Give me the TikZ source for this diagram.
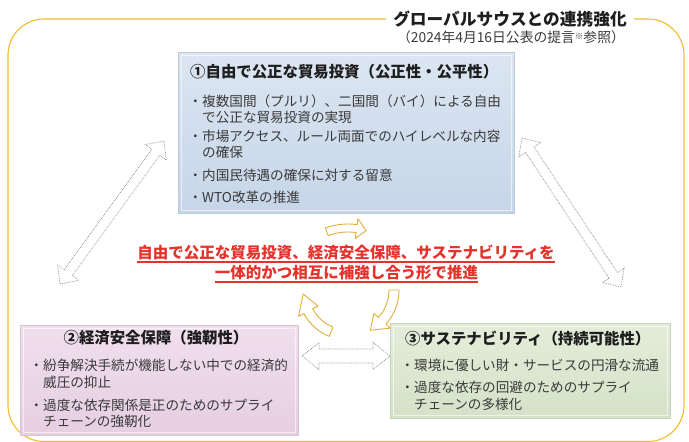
\documentclass[tikz,border=0pt]{standalone}
\usepackage{fontspec}
\setmainfont{Noto Sans CJK JP}
\usetikzlibrary{calc}
\definecolor{framegold}{HTML}{F3BC2E}
\definecolor{arrowgold}{HTML}{E2AE3A}
\definecolor{redtxt}{HTML}{E5322B}
\definecolor{bodytxt}{HTML}{3A3A3A}
\definecolor{titletxt}{HTML}{1E1E1E}
\definecolor{arrowgray}{HTML}{85858E}
\definecolor{bluetop}{HTML}{DCE6F2}
\definecolor{bluebot}{HTML}{C6D5E8}
\definecolor{pinktop}{HTML}{F0DFED}
\definecolor{pinkbot}{HTML}{E6CEE3}
\definecolor{greentop}{HTML}{E4EDDA}
\definecolor{greenbot}{HTML}{D4E2C8}
\tikzset{
  bodyline/.style={anchor=base west, inner sep=0pt, font=\fontsize{13.6}{16}\selectfont, text=bodytxt},
  boxtitle/.style={anchor=base west, inner sep=0pt, font=\fontsize{15.4}{18}\selectfont\bfseries, text=titletxt},
  redtext/.style={anchor=base, inner sep=0pt, font=\fontsize{15.5}{18}\selectfont\bfseries, text=redtxt},
  panel/.style={anchor=north west, inner sep=0pt, draw=#1, line width=0.6pt},
  bevel/.style={draw=white, opacity=0.6, line width=0.8pt},
  yarrow/.style={draw=arrowgold, fill=white, line width=0.9pt, line join=round},
  garrow/.style={draw=arrowgray, fill=white, densely dotted, line width=0.7pt, line join=miter},
  ruleline/.style={draw=redtxt, line width=1.3pt},
}
% double block arrow: #1 A, #2 B, #3 head length, #4 head half width, #5 shaft half width
\newcommand\blockdbl[5]{%
  \coordinate (#1h) at ($(#1)!#3!(#2)$);
  \coordinate (#2h) at ($(#2)!#3!(#1)$);
  \draw[garrow] (#1) -- ($(#1h)!#4!90:(#2)$) -- ($(#1h)!#5!90:(#2)$)
    -- ($(#2h)!#5!-90:(#1)$) -- ($(#2h)!#4!-90:(#1)$) -- (#2)
    -- ($(#2h)!#4!90:(#1)$) -- ($(#2h)!#5!90:(#1)$)
    -- ($(#1h)!#5!-90:(#2)$) -- ($(#1h)!#4!-90:(#2)$) -- cycle;
}
% curved block arrow: #1 centre, #2 radius, #3 start angle, #4 head base angle, #5 tip angle, #6 body half width, #7 head half width
\newcommand\curvarrow[7]{%
  \draw[yarrow, shift={#1}]
    plot[domain=#3:#4, samples=14] (\x:{#2+#6})
    -- (#4:{#2+#7}) -- (#5:#2) -- (#4:{#2-#7})
    -- plot[domain=#4:#3, samples=14] (\x:{#2-#6}) -- cycle;
}
\begin{document}
\begin{tikzpicture}[x=1pt,y=-1pt]
\useasboundingbox (0,0) rectangle (689,442);
% outer frame
\draw[framegold, line width=1.1pt, rounded corners=36pt] (8,19) rectangle (684,441.5);
\node[anchor=base, fill=white, inner xsep=7pt, inner ysep=2pt, font=\fontsize{16.7}{19}\selectfont\bfseries, text=titletxt] (title) at (510,25.3) {グローバルサウスとの連携強化};
\node[anchor=base, inner sep=0pt, font=\fontsize{13.8}{15}\selectfont, text=bodytxt] (sub) at (511,42.2) {（2024年4月16日公表の提言{\raisebox{3pt}{\fontsize{8.5}{8.5}\selectfont ※}}参照）};

% panels
\node[panel=bluebot!85!gray, top color=bluetop, bottom color=bluebot, minimum width=336pt, minimum height=161pt] (topbox) at (178,52) {};
\node[panel=pinkbot!85!gray, top color=pinktop, bottom color=pinkbot, minimum width=278pt, minimum height=110pt] (leftbox) at (20,325) {};
\node[panel=greenbot!85!gray, top color=greentop, bottom color=greenbot, minimum width=280pt, minimum height=95pt] (rightbox) at (390,323) {};
\draw[bevel] ([shift={(3pt,-3pt)}]topbox.north west) rectangle ([shift={(-3pt,3pt)}]topbox.south east);
\draw[bevel] ([shift={(3pt,-3pt)}]leftbox.north west) rectangle ([shift={(-3pt,3pt)}]leftbox.south east);
\draw[bevel] ([shift={(3pt,-3pt)}]rightbox.north west) rectangle ([shift={(-3pt,3pt)}]rightbox.south east);

% top panel text
\node[boxtitle] (ttitle) at (190,77.7) {①自由で公正な貿易投資（公正性・公平性）};
\node[bodyline] (t1) at (188.4,106.2) {・複数国間（プルリ）、二国間（バイ）による自由};
\node[bodyline] (t2) at (202,122.2) {で公正な貿易投資の実現};
\node[bodyline] (t3) at (188.4,141.7) {・市場アクセス、ルール両面でのハイレベルな内容};
\node[bodyline] (t4) at (202,157.2) {の確保};
\node[bodyline] (t5) at (188.4,180.7) {・内国民待遇の確保に対する留意};
\node[bodyline] (t6) at (188.4,202.2) {・WTO改革の推進};

% left panel text
\node[boxtitle, anchor=base] (ltitle) at (156,343.7) {②経済安全保障（強靭性）};
\node[bodyline] (l1) at (29.4,370.2) {・紛争解決手続が機能しない中での経済的};
\node[bodyline] (l2) at (43,387.2) {威圧の抑止};
\node[bodyline] (l3) at (29.4,410.2) {・過度な依存関係是正のためのサプライ};
\node[bodyline] (l4) at (43,426.2) {チェーンの強靭化};

% right panel text
\node[boxtitle] (rtitle) at (405,344.7) {③サステナビリティ（持続可能性）};
\node[bodyline] (r1) at (400.4,370.2) {・環境に優しい財・サービスの円滑な流通};
\node[bodyline] (r2) at (400.4,392.2) {・過度な依存の回避のためのサプライ};
\node[bodyline] (r3) at (414,409.2) {チェーンの多様化};

% central red statement
\node[redtext] (red1) at (346,258.9) {自由で公正な貿易投資、経済安全保障、サステナビリティを};
\node[redtext] (red2) at (346.5,278.9) {一体的かつ相互に補強し合う形で推進};
\draw[ruleline] ([yshift=-3pt]red1.base west) -- ([yshift=-3pt]red1.base east);
\draw[ruleline] ([yshift=-3pt]red2.base west) -- ([yshift=-3pt]red2.base east);

% curved gold arrows (cycle)
\curvarrow{(348,290)}{62}{-110}{-82}{-73}{4}{10}
\curvarrow{(348,290)}{46}{0}{42}{61}{5}{11}
\curvarrow{(348,290)}{45}{112}{152}{175}{5}{11}

% dotted grey double arrows
\coordinate (la) at (60,284);
\coordinate (lb) at (164,141);
\coordinate (ra) at (522,138);
\coordinate (rb) at (621,287);
\coordinate (ha) at (302,356);
\coordinate (hb) at (390,356);
\blockdbl{la}{lb}{14pt}{13pt}{5pt}
\blockdbl{ra}{rb}{14pt}{13pt}{5pt}
\blockdbl{ha}{hb}{17pt}{13.5pt}{7pt}
\end{tikzpicture}
\end{document}
